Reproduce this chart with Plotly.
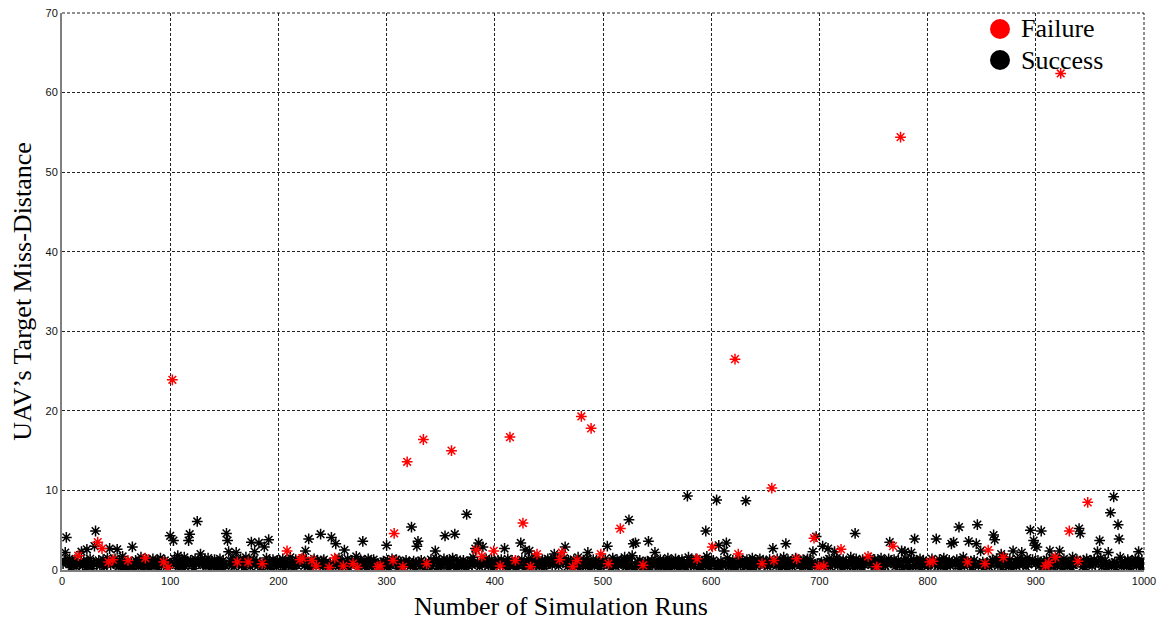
import plotly.graph_objects as go

# Miss-distance per simulation run (runs 1..1000)
band_rows = [
    [0.8,1.2,0.5,0.6,1.0,0.9,1.4,0.3,0.7,1.1, 0.6,1.3,0.4,0.9,0.2,0.7,1.0,0.5,0.5,1.2, 0.8,0.3,1.5,1.1,0.6,1.4,0.9,0.2,1.0,0.4, 1.6,0.7,0.9,1.2,0.5,0.9,0.6,1.3,0.4,1.0, 0.8,1.5,1.0,0.3,0.6,1.1,0.3,0.9,1.4,0.7],
    [1.0,0.4,1.2,0.8,0.2,1.7,0.6,1.1,0.9,0.3, 1.3,0.7,0.5,1.0,1.4,0.2,0.8,1.2,0.6,0.9, 0.4,1.1,1.6,0.7,0.3,1.0,0.5,1.3,0.8,0.2, 1.2,0.9,0.6,1.4,0.4,1.0,0.7,1.1,0.3,0.8, 1.5,0.6,1.0,0.2,1.2,0.9,0.5,1.3,0.7,0.4],
    [0.9,1.1,0.3,1.4,0.6,0.8,1.2,0.2,1.0,0.5, 1.3,0.7,1.6,0.4,0.9,1.1,0.3,0.8,1.2,0.6, 1.0,0.2,1.4,0.7,0.5,1.1,0.9,0.3,1.3,0.8, 0.6,1.2,0.4,1.0,1.5,0.7,0.2,0.9,1.1,0.5, 1.3,0.8,0.3,1.0,0.6,1.4,0.9,0.2,1.2,0.7],
    [0.5,1.0,1.3,0.3,0.8,1.1,0.6,1.5,0.4,0.9, 1.2,0.2,0.7,1.0,1.4,0.5,0.8,1.1,0.3,1.6, 0.9,0.6,1.2,0.4,1.0,0.7,1.3,0.2,0.8,1.1, 0.5,1.4,0.9,0.3,1.2,0.6,1.0,0.8,1.5,0.4, 0.7,1.1,0.2,0.9,1.3,0.6,1.0,0.4,1.2,0.8],
    [1.1,0.6,0.9,1.4,0.3,1.0,0.7,1.2,0.5,0.8, 1.6,0.4,1.1,0.2,0.9,1.3,0.6,1.0,0.8,0.3, 1.2,0.7,1.5,0.5,0.9,1.1,0.4,1.3,0.2,1.0, 0.8,0.6,1.4,0.9,0.3,1.2,1.0,0.5,0.7,1.1, 0.4,1.3,0.8,1.0,0.6,0.2,1.4,0.9,1.1,0.5],
    [0.7,1.3,0.4,1.0,0.9,1.5,0.2,0.8,1.1,0.6, 1.2,0.5,0.9,1.4,0.3,1.0,0.7,1.2,0.4,0.8, 1.1,1.7,0.6,0.9,0.3,1.3,0.5,1.0,0.8,1.2, 0.2,0.9,1.4,0.6,1.1,0.4,0.7,1.3,1.0,0.5, 0.8,1.2,0.3,1.5,0.9,0.6,1.1,0.4,1.0,0.7],
    [1.2,0.3,0.9,0.6,1.4,1.0,0.5,0.8,1.3,0.2, 1.1,0.7,1.0,0.4,1.5,0.9,0.6,1.2,0.3,0.8, 1.0,0.5,1.3,0.7,1.1,0.2,0.9,1.4,0.6,1.0, 0.4,1.2,0.8,1.6,0.3,0.9,1.1,0.5,1.0,0.7, 1.3,0.4,0.8,1.1,0.6,1.4,0.2,0.9,1.2,0.5],
    [0.6,1.0,1.4,0.4,0.8,1.2,0.3,1.1,0.7,0.9, 1.5,0.5,1.0,0.2,1.3,0.8,0.6,1.1,0.4,0.9, 1.2,0.7,0.3,1.4,1.0,0.5,0.8,1.2,0.6,1.6, 0.9,0.3,1.1,0.7,1.3,0.4,1.0,0.8,0.2,1.2, 0.6,1.4,0.9,0.5,1.1,0.7,1.3,0.3,1.0,0.8],
    [1.0,0.5,1.2,0.8,0.3,1.3,0.9,0.6,1.1,0.4, 0.7,1.4,0.2,1.0,0.8,1.2,0.5,0.9,1.5,0.3, 1.1,0.6,1.0,0.4,1.3,0.8,0.2,1.2,0.7,0.9, 1.4,0.5,1.0,0.3,1.1,0.8,1.6,0.6,0.9,1.2, 0.4,1.0,0.7,1.3,0.2,0.9,1.1,0.6,1.4,0.8],
    [0.9,1.3,0.6,1.0,0.2,1.1,0.8,1.4,0.5,0.7, 1.2,0.3,0.9,1.5,0.6,1.0,0.4,1.2,0.8,1.1, 0.3,0.9,1.3,0.7,1.0,0.5,1.6,0.2,0.8,1.1, 0.6,1.2,0.9,0.4,1.4,0.7,1.0,0.3,1.1,0.8, 1.3,0.5,0.9,1.2,0.6,1.0,0.2,1.4,0.7,1.1],
    [0.7,1.4,0.9,0.3,1.1,0.6,0.3,1.0,1.5,0.8, 1.0,0.4,1.3,0.6,0.9,0.5,1.2,0.9,0.7,1.6, 0.4,1.0,0.2,0.9,1.4,0.6,1.1,1.5,0.3,0.8, 0.5,1.0,0.9,1.2,0.5,0.7,1.3,0.2,1.0,0.6, 1.1,1.5,0.3,0.8,1.2,0.5,1.0,0.7,1.2,0.8],
    [0.4,0.7,1.3,0.5,0.9,1.2,0.2,1.0,0.6,1.5, 0.8,0.3,1.1,0.7,1.0,0.4,1.4,0.6,0.9,1.2, 0.2,0.8,1.3,0.5,1.0,0.7,0.3,1.1,1.6,0.9, 0.6,1.2,0.8,0.4,1.0,1.4,0.7,0.2,1.1,0.9, 0.3,1.0,0.6,1.2,0.8,1.7,0.4,1.1,0.2,1.0],
    [0.7,1.2,0.9,0.2,1.4,0.6,1.0,0.3,1.1,0.8, 0.5,1.3,0.9,0.7,1.5,0.4,1.0,0.8,0.2,1.2, 0.6,1.1,0.3,1.0,0.8,1.4,0.5,0.9,1.2,0.7, 0.4,1.0,1.3,0.6,0.2,1.1,0.9,1.5,0.3,0.8, 1.0,0.5,1.2,0.7,1.4,0.9,0.3,1.1,0.6,1.0],
    [1.1,0.4,0.8,1.3,0.6,1.0,0.2,1.2,0.9,0.5, 1.4,0.7,1.0,0.3,0.8,1.1,1.6,0.5,0.9,0.2, 1.3,0.6,1.0,0.8,0.4,1.2,0.7,1.5,0.3,1.0, 0.9,0.6,1.1,0.2,1.3,0.8,0.5,1.0,1.4,0.7, 0.3,1.2,0.9,0.6,1.0,0.4,1.1,0.8,1.5,0.2],
    [0.8,1.0,0.5,1.3,0.9,0.3,1.2,0.7,1.4,0.4, 1.0,0.6,1.1,0.2,0.9,1.5,0.5,1.2,0.8,1.0, 0.3,1.3,0.7,0.9,1.1,0.4,1.0,0.6,1.6,0.8, 1.2,0.2,0.9,1.4,0.5,1.0,0.7,1.1,0.3,1.3, 0.8,0.6,1.0,1.2,0.4,0.9,1.5,0.7,1.1,0.3],
    [1.3,0.6,1.0,0.4,1.2,0.8,1.5,0.3,0.9,1.1, 0.5,1.0,0.7,1.4,0.2,1.1,0.9,0.6,1.3,0.4, 1.0,0.8,1.2,0.5,1.6,0.7,0.3,1.1,0.9,1.4, 0.6,1.0,0.2,1.2,0.8,0.5,1.3,0.9,0.4,1.0, 1.1,0.7,1.4,0.3,0.9,1.2,0.6,1.0,0.8,0.5],
    [0.6,1.1,0.9,1.4,0.3,1.0,0.7,1.2,0.5,0.8, 1.3,0.4,1.0,0.9,1.5,0.2,1.1,0.6,0.8,1.2, 0.5,1.4,0.9,0.3,1.0,0.7,1.3,0.6,1.1,0.2, 0.8,1.2,1.6,0.5,0.9,1.0,0.4,1.3,0.7,1.1, 0.3,0.9,1.2,0.6,1.0,1.4,0.5,0.8,1.1,0.7],
    [1.0,0.3,1.2,0.7,0.9,1.5,0.4,1.1,0.6,1.3, 0.8,0.2,1.0,1.4,0.5,0.9,1.2,0.7,0.3,1.1, 1.6,0.6,0.9,1.0,0.4,1.3,0.8,0.2,1.2,0.7, 1.0,0.5,1.4,0.9,0.6,1.1,0.3,1.2,0.8,1.0, 0.4,1.5,0.7,1.1,0.2,0.9,1.3,0.6,1.0,0.8],
    [0.9,1.2,0.5,1.0,1.4,0.3,0.8,1.1,0.6,1.3, 0.2,0.9,1.0,0.7,1.5,0.4,1.2,0.8,1.1,0.5, 1.3,0.6,0.9,0.2,1.0,1.4,0.7,1.1,0.4,0.8, 1.2,0.9,0.3,1.6,0.6,1.0,0.8,1.3,0.5,1.1, 0.7,1.0,0.4,1.2,0.9,0.3,1.4,0.6,1.0,0.8],
    [1.2,0.5,0.9,1.3,0.7,1.0,0.3,1.1,0.8,1.5, 0.4,1.0,0.6,1.2,0.9,0.2,1.4,0.7,1.1,0.5, 0.8,1.3,1.0,0.3,0.9,1.2,0.6,1.6,0.4,1.0, 0.7,1.1,0.9,0.5,1.3,0.8,0.2,1.0,1.2,0.6, 0.9,1.4,0.5,1.1,0.7,1.0,0.3,1.2,0.8,0.6],
]

# Successful runs that stand out above the dense band
success_peak_runs = [3,4,18,23,30,31,44,51,65,100,103,107,117,118,125,128,152,153,154,161,
                     175,178,182,187,191,225,228,239,249,253,261,278,300,323,328,329,345,354,363,374,
                     382,385,389,409,424,428,432,455,465,486,504,524,527,528,530,542,548,578,595,605,
                     607,612,614,632,657,669,694,697,703,708,714,733,765,776,779,785,788,808,822,824,
                     829,838,845,846,849,861,862,868,879,887,895,898,899,901,905,913,922,940,941,957,
                     959,967,969,972,976,977,995]
success_peak_values = [2.2,4.1,2.3,2.6,3.0,4.9,2.7,2.6,2.9,4.3,3.7,1.8,3.7,4.5,6.1,2.0,4.6,3.7,2.3,2.2,
                       3.5,2.3,3.4,2.9,3.8,2.4,3.9,4.5,4.1,3.3,2.5,3.6,3.1,5.4,3.0,3.6,2.4,4.3,4.5,7.0,
                       2.7,3.4,2.9,2.7,3.4,2.5,2.4,2.0,2.9,2.2,3.0,6.3,1.8,3.3,3.4,3.6,2.2,9.3,4.9,8.8,
                       3.1,2.4,3.4,8.7,2.7,3.3,2.3,4.2,3.0,2.7,2.3,4.6,3.5,2.4,2.3,2.2,3.9,3.9,3.3,3.5,
                       5.4,3.6,3.3,5.7,2.4,4.4,3.8,2.0,2.4,2.2,5.0,3.7,3.1,2.9,4.9,2.4,2.4,5.2,4.6,2.3,
                       3.7,2.2,7.2,9.2,5.7,3.9,2.3]

# Failed runs (red)
failure_runs = [15,33,37,43,47,61,77,94,98,102,162,172,185,208,220,222,231,235,247,252,
                260,269,273,292,294,306,307,315,319,334,337,360,383,388,399,405,414,419,426,433,
                439,460,462,472,476,480,489,498,505,516,537,587,601,622,625,647,656,658,679,695,
                699,704,720,745,753,768,775,802,805,837,853,856,870,909,912,918,923,931,939,948]
failure_values = [1.8,3.5,2.7,1.0,1.3,1.2,1.5,1.0,0.3,23.9,1.0,1.0,0.8,2.4,1.3,1.5,1.2,0.5,0.3,1.5,
                  0.5,0.8,0.3,0.4,0.5,1.2,4.6,0.4,13.6,16.4,0.8,15.0,2.5,1.7,2.4,0.5,16.7,1.2,5.9,0.4,
                  2.0,1.3,2.2,0.4,1.2,19.3,17.8,2.0,0.8,5.2,0.6,1.4,2.9,26.5,2.0,0.8,10.3,1.2,1.4,4.0,
                  0.4,0.5,2.6,1.7,0.4,3.0,54.4,1.0,1.1,1.0,0.8,2.5,1.6,0.5,0.9,1.6,62.4,4.9,1.1,8.5]

legend_labels = ["Failure", "Success"]
legend_colors = ["red", "black"]

x_ticks = [0,100,200,300,400,500,600,700,800,900,1000]
y_ticks = [0,10,20,30,40,50,60,70]

# ---- assemble series ----
miss = {}
run = 1
for row in band_rows:
    for v in row:
        miss[run] = v
        run += 1
for r, v in zip(success_peak_runs, success_peak_values):
    miss[r] = v
failed = set(failure_runs)
succ_x = [r for r in sorted(miss) if r not in failed]
succ_y = [miss[r] for r in succ_x]

fig = go.Figure()
fig.add_trace(go.Scatter(x=succ_x, y=succ_y, mode="markers", name="Success", showlegend=False,
                         marker=dict(symbol="asterisk-open", size=9, color="black",
                                     line=dict(color="black", width=1.5))))
fig.add_trace(go.Scatter(x=failure_runs, y=failure_values, mode="markers", name="Failure",
                         showlegend=False,
                         marker=dict(symbol="asterisk-open", size=9, color="red",
                                     line=dict(color="red", width=1.5))))

axis_common = dict(showgrid=True, gridcolor="#222", griddash="3px,2px", gridwidth=1,
                   zeroline=False, showline=True, linecolor="#7f7f7f", linewidth=2,
                   ticks="", automargin=False, ticklabeloverflow="allow",
                   tickfont=dict(family="Liberation Sans, Arial", size=11, color="#111"),
                   mirror=False)

# full-window figure; the page body margin is removed by a small post script
W, H = 1159, 621
ML, MR, MT, MB = 62, 15, 13, 51
plot_w = W - ML - MR
plot_h = H - MT - MB

# legend (drawn as circles + labels, positioned in the plot's paper space)
leg_marker_x = (1000 - ML) / plot_w
leg_text_x = (1019 - ML) / plot_w
leg_y = [1 - (29 - MT) / plot_h, 1 - (60 - MT) / plot_h]

serif = "Liberation Serif, Times New Roman"

shapes = [
    dict(type="line", xref="paper", yref="paper", x0=0, x1=1, y0=1, y1=1,
         line=dict(color="#222", width=1, dash="3px,2px"), layer="below"),
    dict(type="line", xref="paper", yref="paper", x0=1, x1=1, y0=0, y1=1,
         line=dict(color="#222", width=1, dash="3px,2px"), layer="below"),
]
annotations = [
    dict(text="Number of Simulation Runs", xref="paper", yref="paper",
         x=(561 - ML) / plot_w, y=1 - (606 - MT) / plot_h,
         xanchor="center", yanchor="middle", showarrow=False,
         font=dict(family=serif, size=26, color="black")),
]
for lab, col, yy in zip(legend_labels, legend_colors, leg_y):
    shapes.append(dict(type="circle", xref="paper", yref="paper",
                       xsizemode="pixel", ysizemode="pixel",
                       xanchor=leg_marker_x, yanchor=yy, x0=-10, x1=10, y0=-10, y1=10,
                       fillcolor=col, line=dict(color=col, width=0)))
    annotations.append(dict(text=lab, xref="paper", yref="paper", x=leg_text_x, y=yy,
                            xanchor="left", yanchor="middle", showarrow=False,
                            font=dict(family=serif, size=26, color="black")))

fig.update_layout(
    width=W, height=H,
    paper_bgcolor="white", plot_bgcolor="white",
    margin=dict(l=ML, r=MR, t=MT, b=MB, autoexpand=False),
    xaxis=dict(range=[0, 1000], tickvals=x_ticks, **axis_common),
    yaxis=dict(range=[0, 70], tickvals=y_ticks, **axis_common,
               title=dict(text="UAV’s Target Miss-Distance", standoff=6,
                          font=dict(family=serif, size=26, color="black"))),
    showlegend=False,
    shapes=shapes,
    annotations=annotations,
)

fig.write_html("out.html", config={"displayModeBar": False},
               post_script="document.body.style.margin='0';document.body.style.overflow='hidden';")
